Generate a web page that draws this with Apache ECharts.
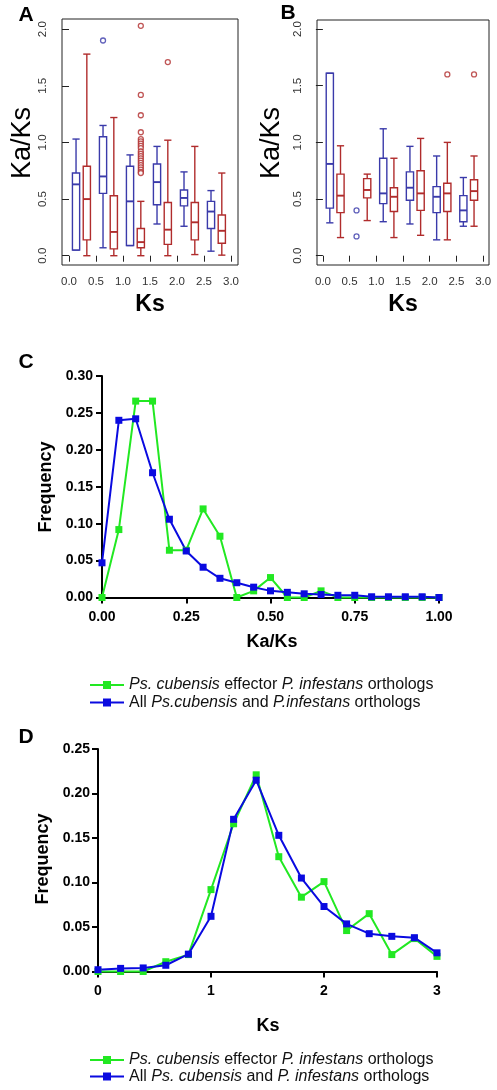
<!DOCTYPE html>
<html><head><meta charset="utf-8">
<script src="https://cdn.jsdelivr.net/npm/echarts@6/dist/echarts.min.js"></script>
<style>html,body{margin:0;padding:0;background:#fff}#c{width:497px;height:1090px}</style>
</head><body><div id="c"></div>
<script>
// ---------- Panels A / B : box plots of Ka/Ks by Ks bin ----------
const ksBins = [0, 0.5, 1.0, 1.5, 2.0, 2.5];
const ksTicks = [0, 0.5, 1.0, 1.5, 2.0, 2.5, 3.0];
const kaksTicks = [0, 0.5, 1.0, 1.5, 2.0];
// stats: [min, q1, median, q3, max]
const A_blue = [
  [0.05, 0.05, 0.63, 0.73, 1.03],
  [0.07, 0.55, 0.70, 1.05, 1.15],
  [0.09, 0.09, 0.48, 0.79, 0.89],
  [0.28, 0.45, 0.65, 0.81, 0.965],
  [0.26, 0.44, 0.51, 0.58, 0.74],
  [0.04, 0.24, 0.39, 0.48, 0.575]
];
const A_red = [
  [0.00, 0.14, 0.50, 0.79, 1.78],
  [0.00, 0.06, 0.21, 0.53, 1.22],
  [0.00, 0.07, 0.12, 0.24, 0.48],
  [0.00, 0.10, 0.23, 0.47, 1.02],
  [0.01, 0.14, 0.295, 0.47, 0.965],
  [0.005, 0.11, 0.22, 0.36, 0.73]
];
// outliers: [bin index, Ka/Ks]
const A_blueOut = [[1, 1.90]];
const A_redOut = [[2, 2.03], [2, 1.42], [2, 1.24], [2, 1.09], [2, 1.03], [2, 1.01], [2, 0.99], [2, 0.97],
  [2, 0.95], [2, 0.92], [2, 0.90], [2, 0.88], [2, 0.86], [2, 0.84], [2, 0.82], [2, 0.80], [2, 0.78],
  [2, 0.76], [2, 0.74], [2, 0.73], [3, 1.71]];

const B_blue = [
  [0.29, 0.42, 0.81, 1.61, 1.61],
  null,
  [0.30, 0.46, 0.55, 0.86, 1.12],
  [0.28, 0.49, 0.60, 0.74, 0.965],
  [0.14, 0.38, 0.52, 0.61, 0.88],
  [0.26, 0.30, 0.40, 0.53, 0.69]
];
const B_red = [
  [0.16, 0.38, 0.53, 0.72, 0.97],
  [0.31, 0.51, 0.58, 0.68, 0.72],
  [0.16, 0.39, 0.52, 0.60, 0.86],
  [0.18, 0.40, 0.55, 0.75, 1.035],
  [0.14, 0.39, 0.55, 0.64, 1.00],
  [0.26, 0.49, 0.57, 0.67, 0.88]
];
const B_blueOut = [[1, 0.40], [1, 0.17]];
const B_redOut = [[4, 1.60], [5, 1.60]];

// ---------- Panel C : Ka/Ks frequency ----------
const C_kaks = [0, 0.05, 0.10, 0.15, 0.20, 0.25, 0.30, 0.35, 0.40, 0.45, 0.50, 0.55, 0.60, 0.65, 0.70, 0.75, 0.80, 0.85, 0.90, 0.95, 1.00];
const C_effector = [0.000, 0.092, 0.266, 0.266, 0.064, 0.064, 0.120, 0.083, 0.000, 0.009, 0.027, 0.000, 0.000, 0.009, 0.000, 0.000, 0.000, 0.000, 0.000, 0.000, 0.000];
const C_all = [0.047, 0.240, 0.242, 0.169, 0.106, 0.063, 0.041, 0.026, 0.020, 0.014, 0.009, 0.007, 0.005, 0.004, 0.003, 0.003, 0.001, 0.001, 0.001, 0.001, 0.000];

// ---------- Panel D : Ks frequency ----------
const D_ks = [0, 0.2, 0.4, 0.6, 0.8, 1.0, 1.2, 1.4, 1.6, 1.8, 2.0, 2.2, 2.4, 2.6, 2.8, 3.0];
const D_effector = [0.000, 0.000, 0.000, 0.011, 0.019, 0.092, 0.166, 0.221, 0.129, 0.0835, 0.101, 0.046, 0.065, 0.019, 0.037, 0.017];
const D_all = [0.002, 0.0035, 0.004, 0.007, 0.0195, 0.062, 0.171, 0.215, 0.153, 0.105, 0.073, 0.0535, 0.0425, 0.0395, 0.038, 0.021];

const legendLabels = {
  C_eff: '{i|Ps. cubensis} effector {i|P. infestans} orthologs',
  C_all: 'All {i|Ps.cubensis} and {i|P.infestans} orthologs',
  D_eff: '{i|Ps. cubensis} effector {i|P. infestans} orthologs',
  D_all: 'All {i|Ps. cubensis} and {i|P. infestans} orthologs'
};

const FONT = '"Liberation Sans", Arial, Helvetica, sans-serif';
const BLUE_R = '#3a3aaa';
const RED_R = '#b02c2c';
const GREEN = '#22e822';
const BLUE = '#0a0ae0';
const OFF_BLUE = 0.13, OFF_RED = 0.33;

function boxData(stats, off) {
  const out = [];
  stats.forEach((s, i) => { if (s) out.push([ksBins[i] + off].concat(s)); });
  return out;
}
function outData(list, off) {
  return list.map(o => [ksBins[o[0]] + off, o[1]]);
}
function boxRender(color) {
  return function (params, api) {
    const x = api.value(0);
    const lo = api.coord([x, api.value(1)]);
    const q1 = api.coord([x, api.value(2)]);
    const md = api.coord([x, api.value(3)]);
    const q3 = api.coord([x, api.value(4)]);
    const hi = api.coord([x, api.value(5)]);
    const hw = 3.6, cw = 3.6;
    const st = { stroke: color, fill: 'transparent', lineWidth: 1.4 };
    const cx = md[0];
    return {
      type: 'group',
      children: [
        { type: 'line', shape: { x1: cx, y1: q3[1], x2: cx, y2: hi[1] }, style: st },
        { type: 'line', shape: { x1: cx - cw, y1: hi[1], x2: cx + cw, y2: hi[1] }, style: st },
        { type: 'line', shape: { x1: cx, y1: q1[1], x2: cx, y2: lo[1] }, style: st },
        { type: 'line', shape: { x1: cx - cw, y1: lo[1], x2: cx + cw, y2: lo[1] }, style: st },
        { type: 'rect', shape: { x: cx - hw, y: q3[1], width: 2 * hw, height: Math.max(q1[1] - q3[1], 0.5) }, style: { stroke: color, fill: '#fff', lineWidth: 1.4 } },
        { type: 'line', shape: { x1: cx - hw, y1: md[1], x2: cx + hw, y2: md[1] }, style: { stroke: color, lineWidth: 1.9 } }
      ]
    };
  };
}

function boxSeries(idx, stats, off, color) {
  return {
    type: 'custom', xAxisIndex: idx, yAxisIndex: idx,
    data: boxData(stats, off), encode: { x: 0, y: [1, 2, 3, 4, 5] },
    renderItem: boxRender(color), clip: false, silent: true
  };
}
function outSeries(idx, list, off, color) {
  return {
    type: 'scatter', xAxisIndex: idx, yAxisIndex: idx,
    data: outData(list, off), symbol: 'circle', symbolSize: 5,
    itemStyle: { color: '#fff', borderColor: color, borderWidth: 1.3 }, silent: true
  };
}

function boxXAxis(idx, min, max) {
  return {
    type: 'value', gridIndex: idx, min: min, max: max,
    axisLine: { show: false }, splitLine: { show: false },
    axisTick: { show: true, customValues: ksTicks, length: 6, lineStyle: { color: '#222', width: 1 } },
    axisLabel: { customValues: ksTicks, fontSize: 11.5, color: '#333', fontFamily: FONT, margin: 11,
      formatter: v => v.toFixed(1) }
  };
}
function boxYAxis(idx, min, max) {
  return {
    type: 'value', gridIndex: idx, min: min, max: max,
    axisLine: { show: false }, splitLine: { show: false },
    axisTick: { show: true, customValues: kaksTicks, length: 7, lineStyle: { color: '#222', width: 1 } },
    axisLabel: { customValues: kaksTicks, rotate: 90, fontSize: 11.5, color: '#333', fontFamily: FONT, margin: 13,
      formatter: v => v.toFixed(1) }
  };
}
function freqAxisStyle() {
  return {
    axisLine: { show: true, lineStyle: { color: '#000', width: 2 } },
    axisTick: { show: true, length: 6, lineStyle: { color: '#000', width: 2 } },
    splitLine: { show: false }
  };
}

function lineSeries(idx, name, xs, ys, color) {
  return {
    type: 'line', name: name, xAxisIndex: idx, yAxisIndex: idx,
    data: xs.map((x, i) => [x, ys[i]]),
    symbol: 'rect', symbolSize: 7, showSymbol: true, clip: false,
    lineStyle: { color: color, width: 2 }, itemStyle: { color: color },
    silent: true
  };
}

function oneLegend(name, top) {
  return {
    data: [name], left: 89, top: top, padding: 0, orient: 'vertical',
    selectedMode: false, itemWidth: 34, itemHeight: 10, itemGap: 0,
    formatter: n => legendLabels[n],
    textStyle: { fontSize: 16, color: '#111', fontFamily: FONT, lineHeight: 17,
      rich: { i: { fontStyle: 'italic', fontSize: 16, fontFamily: FONT, color: '#111', lineHeight: 17 } } }
  };
}

function txt(text, x, y, font, rot) {
  return {
    type: 'text', x: x, y: y, rotation: rot || 0, silent: true,
    style: { text: text, font: font, fill: '#000', textAlign: 'center', textVerticalAlign: 'middle' }
  };
}

const chart = echarts.init(document.getElementById('c'), null, { renderer: 'canvas' });
chart.setOption({
  animation: false,
  backgroundColor: '#fff',
  grid: [
    { left: 62, top: 19, width: 176, height: 246, show: true, borderColor: '#222', borderWidth: 1, backgroundColor: 'transparent' },
    { left: 317, top: 20, width: 172, height: 245, show: true, borderColor: '#222', borderWidth: 1, backgroundColor: 'transparent' },
    { left: 102, top: 376, width: 337, height: 221.5 },
    { left: 98, top: 749, width: 339, height: 222.5 }
  ],
  xAxis: [
    boxXAxis(0, -0.13, 3.13),
    boxXAxis(1, -0.11, 3.11),
    Object.assign({ type: 'value', gridIndex: 2, min: 0, max: 1, interval: 0.25,
      axisLabel: { fontSize: 14, fontWeight: 'bold', color: '#000', fontFamily: FONT, margin: 13, formatter: v => v.toFixed(2) } }, freqAxisStyle()),
    Object.assign({ type: 'value', gridIndex: 3, min: 0, max: 3, interval: 1,
      axisLabel: { fontSize: 14, fontWeight: 'bold', color: '#000', fontFamily: FONT, margin: 13, formatter: v => String(v) } }, freqAxisStyle())
  ],
  yAxis: [
    boxYAxis(0, -0.082, 2.09),
    boxYAxis(1, -0.082, 2.08),
    Object.assign({ type: 'value', gridIndex: 2, min: 0, max: 0.30, interval: 0.05,
      axisLabel: { fontSize: 14, fontWeight: 'bold', color: '#000', fontFamily: FONT, margin: 9, formatter: v => v.toFixed(2) } }, freqAxisStyle()),
    Object.assign({ type: 'value', gridIndex: 3, min: 0, max: 0.25, interval: 0.05,
      axisLabel: { fontSize: 14, fontWeight: 'bold', color: '#000', fontFamily: FONT, margin: 8, formatter: v => v.toFixed(2) } }, freqAxisStyle())
  ],
  legend: [
    oneLegend('C_eff', 676.5),
    oneLegend('C_all', 694),
    oneLegend('D_eff', 1051.5),
    oneLegend('D_all', 1068)
  ],
  graphic: [
    txt('A', 26, 15, 'bold 21px ' + FONT),
    txt('B', 288, 13, 'bold 21px ' + FONT),
    txt('C', 26, 362, 'bold 21px ' + FONT),
    txt('D', 26, 737, 'bold 21px ' + FONT),
    txt('Ka/Ks', 22.5, 143, '27px ' + FONT, Math.PI / 2),
    txt('Ka/Ks', 272, 143, '27px ' + FONT, Math.PI / 2),
    txt('Ks', 150, 305, 'bold 23px ' + FONT),
    txt('Ks', 403, 305, 'bold 23px ' + FONT),
    txt('Frequency', 46.5, 487, 'bold 18px ' + FONT, Math.PI / 2),
    txt('Ka/Ks', 272, 642, 'bold 18px ' + FONT),
    txt('Frequency', 43.5, 859, 'bold 18px ' + FONT, Math.PI / 2),
    txt('Ks', 268, 1026, 'bold 18px ' + FONT)
  ],
  series: [
    boxSeries(0, A_blue, OFF_BLUE, BLUE_R),
    boxSeries(0, A_red, OFF_RED, RED_R),
    outSeries(0, A_blueOut, OFF_BLUE, BLUE_R),
    outSeries(0, A_redOut, OFF_RED, RED_R),
    boxSeries(1, B_blue, OFF_BLUE, BLUE_R),
    boxSeries(1, B_red, OFF_RED, RED_R),
    outSeries(1, B_blueOut, OFF_BLUE, BLUE_R),
    outSeries(1, B_redOut, OFF_RED, RED_R),
    lineSeries(2, 'C_eff', C_kaks, C_effector, GREEN),
    lineSeries(2, 'C_all', C_kaks, C_all, BLUE),
    lineSeries(3, 'D_eff', D_ks, D_effector, GREEN),
    lineSeries(3, 'D_all', D_ks, D_all, BLUE)
  ]
});
</script>
</body></html>
